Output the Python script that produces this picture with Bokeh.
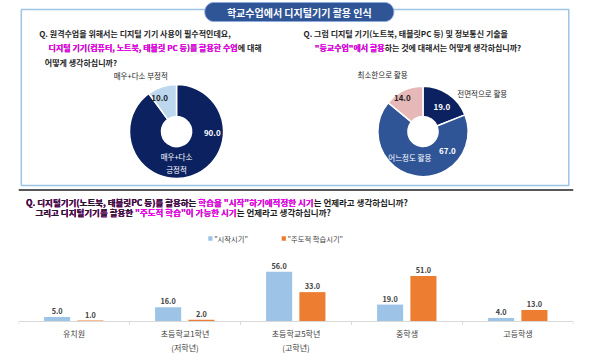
import numpy as np
from math import pi
from bokeh.plotting import figure
from bokeh.layouts import column
from bokeh.models import Range1d, ColumnDataSource, FactorRange, Span
from bokeh.transform import dodge
from bokeh.core.properties import value
from bokeh.embed import file_html
from bokeh.resources import INLINE

# ---------------- data ----------------
title_text = "학교수업에서 디지털기기 활용 인식"
donut1_labels = ["매우+다소 긍정적", "매우+다소 부정적"]
donut1_values = [90.0, 10.0]
donut1_colors = ["#0b2160", "#bdd7ee"]
donut2_labels = ["전면적으로 활용", "어느정도 활용", "최소한으로 활용"]
donut2_values = [19.0, 67.0, 14.0]
donut2_colors = ["#0b2160", "#2f5597", "#e6b9b8"]
categories = ["유치원", "초등학교1학년\n(저학년)", "초등학교5학년\n(고학년)", "중학생", "고등학생"]
series_names = ['"시작시기"', '"주도적 학습시기"']
start_values = [5.0, 16.0, 56.0, 19.0, 4.0]
selfdirected_values = [1.0, 2.0, 33.0, 51.0, 13.0]
series_colors = ["#9dc3e6", "#ed7d31"]

FONT = "Noto Sans CJK KR"
MAG = "#ff00ff"
BLK = "#1e1e1e"

# ---------------- top figure (page coords, y negated) ----------------
W = 590
TOP_H = 248
top = figure(width=W, height=TOP_H, x_range=Range1d(0, W), y_range=Range1d(-TOP_H, 0),
             output_backend="svg", toolbar_location=None, min_border=0)
top.axis.visible = False
top.grid.visible = False
top.outline_line_color = None


def rich(x, y, parts, fs):
    # draw prefixes from longest to shortest so each colour segment sits exactly in place
    for k in range(len(parts) - 1, -1, -1):
        s = "".join(t for t, _ in parts[:k + 1])
        top.text(x=[x], y=[-y], text=[s], text_color=parts[k][1], text_font=value(FONT),
                 text_font_size=f"{fs}px", text_font_style="bold",
                 text_baseline="middle", text_align="left")


def lbl(x, y, s, fs, color, bold=False, align="center"):
    top.text(x=[x], y=[-y], text=[s], text_color=color, text_font=value(FONT),
             text_font_size=f"{fs}px", text_font_style="bold" if bold else "normal",
             text_baseline="middle", text_align=align)


# box
top.quad(left=[3], right=[585], top=[-9], bottom=[-185], fill_color=None,
         line_color="#9dc3e6", line_width=1.5)
# separator
top.segment(x0=[0], x1=[W], y0=[-189.5], y1=[-189.5], line_color="#595959", line_width=2)

# title pill (stadium shape)
pl, pr, pt, pb = 198, 399, 2, 21
rr = (pb - pt) / 2
th = np.linspace(-pi / 2, pi / 2, 30)
px = np.concatenate([pr - rr + rr * np.cos(th), pl + rr - rr * np.cos(th[::-1] * -1)])
py = np.concatenate([(pt + pb) / 2 - rr * np.sin(th), (pt + pb) / 2 + rr * np.sin(th)])
top.patch(x=px, y=-py, fill_color="#2f5597", line_color="#8faadc", line_width=1)
lbl((pl + pr) / 2, (pt + pb) / 2, title_text, 10, "white", bold=True)

# questions
QF = 8.0
rich(22, 33, [("Q. 원격수업을 위해서는 디지털 기기 사용이 필수적인데요,", BLK)], QF)
rich(32, 47, [("디지털 기기(컴퓨터, 노트북, 태블릿 PC 등)를 활용한 수업", MAG), ("에 대해", BLK)], QF)
rich(28, 62, [("어떻게 생각하십니까?", BLK)], QF)
rich(303, 33, [("Q. 그럼 디지털 기기(노트북, 태블릿PC 등) 및 정보통신 기술을", BLK)], QF)
rich(315, 47, [('"등교수업"에서 활용', MAG), ("하는 것에 대해서는 어떻게 생각하십니까?", BLK)], QF)

BF = 8.5
rich(8, 201, [("Q. 디지털기기(노트북, 태블릿PC 등)를 활용하는 ", BLK),
              ('학습을 "시작"하기에적정한 시기', MAG),
              ("는 언제라고 생각하십니까?", BLK)], BF)
rich(18, 211, [("그리고 디지털기기를 활용한 ", BLK),
               ('"주도적 학습"이 가능한 시기', MAG),
               ("는 언제라고 생각하십니까?", BLK)], BF)


# donuts
def donut(cx, cy, r_out, r_in, vals, cols):
    v = np.array(vals, dtype=float)
    c = np.concatenate([[0], np.cumsum(v) / v.sum()])
    src = ColumnDataSource(dict(s=pi / 2 - 2 * pi * c[:-1], e=pi / 2 - 2 * pi * c[1:], col=cols))
    top.annular_wedge(x=cx, y=-cy, inner_radius=r_in, outer_radius=r_out, start_angle='s',
                      end_angle='e', direction="clock", fill_color='col', line_color="white",
                      line_width=1.5, source=src)


donut(168, 131, 50, 16, donut1_values, donut1_colors)
donut(430, 131, 48, 16, donut2_values, donut2_colors)

lbl(130, 75, donut1_labels[1], 7.5, "#262626")
lbl(150, 97, f"{donut1_values[1]:.1f}", 8, "#262626", bold=True)
lbl(206, 132, f"{donut1_values[0]:.1f}", 8, "white", bold=True)
p1 = donut1_labels[0].split(" ")
lbl(168, 156, p1[0], 7.5, "white")
lbl(168, 169, p1[1], 7.5, "white")

lbl(493, 93, donut2_labels[0], 7.5, "#262626")
lbl(450, 106, f"{donut2_values[0]:.1f}", 8, "white", bold=True)
lbl(456, 150, f"{donut2_values[1]:.1f}", 8, "white", bold=True)
lbl(416, 157, donut2_labels[1], 7.5, "white")
lbl(408, 97, f"{donut2_values[2]:.1f}", 8, "#262626", bold=True)
lbl(387, 74, donut2_labels[2], 7.5, "#262626")

# legend
for i, (nm, col) in enumerate(zip(series_names, series_colors)):
    lx = [204, 282][i]
    top.rect(x=[lx], y=[-238], width=4.5, height=4.5, fill_color=col, line_color=None)
    lbl(lx + 4, 238, nm, 7.3, "#404040", align="left")

# ---------------- bottom figure: bar chart ----------------
BAR_H = 363 - TOP_H          # 115 px
ABOVE = 321 - TOP_H          # px from frame top to baseline
YMAX = 82.0
YMIN = -YMAX * (BAR_H - ABOVE) / ABOVE
bar = figure(width=W, height=BAR_H, x_range=FactorRange(*categories, range_padding=0),
             y_range=Range1d(YMIN, YMAX), output_backend="svg", toolbar_location=None,
             min_border=0, min_border_left=18, min_border_right=17)
bar.outline_line_color = None
bar.grid.visible = False
bar.axis.visible = False
bar.x_range.range_padding = 0
bar.add_layout(Span(location=0, dimension="width", line_color="#d9d9d9", line_width=1))

bsrc = ColumnDataSource(dict(cat=categories, a=start_values, b=selfdirected_values,
                             al=[f"{v:.1f}" for v in start_values],
                             bl=[f"{v:.1f}" for v in selfdirected_values],
                             zero=[0.0] * len(categories)))
for off, key, col in [(-0.152, 'a', series_colors[0]), (0.148, 'b', series_colors[1])]:
    xd = dodge('cat', off, range=bar.x_range)
    bar.vbar(x=xd, top=key, width=0.235, fill_color=col, line_color=None, source=bsrc)
    bar.text(x=xd, y=key, text=key + 'l', source=bsrc, text_align="center",
             text_baseline="bottom", y_offset=-3, text_font=value(FONT),
             text_font_size="7.3px", text_font_style="bold", text_color="#404040")

# category boundary ticks
tick_len = YMAX * 3 / ABOVE
for off in (-0.5, 0.5):
    xd = dodge('cat', off, range=bar.x_range)
    bar.segment(x0=xd, x1=xd, y0='zero', y1=-tick_len, source=bsrc,
                line_color="#d9d9d9", line_width=1)

# category labels
bar.text(x='cat', y='zero', text='cat', source=bsrc, text_align="center",
         text_baseline="top", y_offset=6, text_font=value(FONT), text_font_size="8px",
         text_color="#404040", text_line_height=1.3)

layout = column(top, bar, spacing=0)
open("out.html", "w").write(file_html(layout, INLINE))
